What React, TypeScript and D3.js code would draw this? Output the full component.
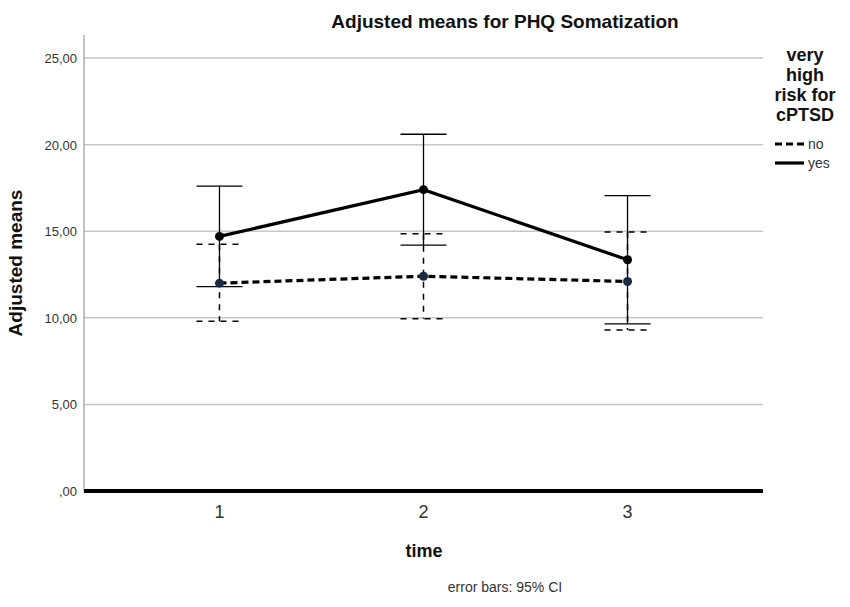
import React from 'react';
import * as d3 from 'd3';

// time points and adjusted means with 95% CI
const times = ['1', '2', '3'];
const noMeans = [12.0, 12.4, 12.1];
const noLower = [9.8, 9.95, 9.3];
const noUpper = [14.25, 14.85, 14.95];
const yesMeans = [14.7, 17.4, 13.35];
const yesLower = [11.8, 14.2, 9.65];
const yesUpper = [17.6, 20.6, 17.05];
const yTicks = [0, 5, 10, 15, 20, 25];
const legendTitle = ['very', 'high', 'risk for', 'cPTSD'];
const legendItems = ['no', 'yes'];

const W = 850;
const H = 607;
const left = 84;
const right = 763;
const top = 35;
const bottom = 491;
const font = '"Liberation Sans", Arial, sans-serif';

const fmt = (v: number) => (v === 0 ? ',00' : v.toFixed(2).replace('.', ','));

const App: React.FC = () => {
  const x = d3.scalePoint<string>().domain(times).range([left, right]).padding(0.664);
  const y = d3.scaleLinear().domain([0, 26.33]).range([bottom, top]);

  const line = d3
    .line<number>()
    .x((_, i) => x(times[i])!)
    .y((d) => y(d));

  const capW = 23;

  const series = [
    { key: 'no', means: noMeans, lo: noLower, hi: noUpper, dash: '7,4', bar: '6,6', point: '#1b2b45' },
    { key: 'yes', means: yesMeans, lo: yesLower, hi: yesUpper, dash: undefined, bar: undefined, point: '#000' },
  ];

  return (
    <svg width={W} height={H} style={{ position: 'absolute', left: 0, top: 0, background: '#fff' }} fontFamily={font}>
      <rect width={W} height={H} fill="#fff" />
      <text x={505} y={28} textAnchor="middle" fontSize={19} fontWeight="bold" fill="#111">
        Adjusted means for PHQ Somatization
      </text>

      {/* gridlines */}
      {yTicks.filter((t) => t > 0).map((t) => (
        <line key={t} x1={left} x2={right} y1={y(t)} y2={y(t)} stroke="#c8c8c8" strokeWidth={1.5} />
      ))}
      {/* y axis */}
      <line x1={left} x2={left} y1={top} y2={bottom} stroke="#9a9a9a" strokeWidth={1.2} />
      {yTicks.map((t) => (
        <text key={t} x={77} y={y(t) + 5} textAnchor="end" fontSize={13} fill="#333">
          {fmt(t)}
        </text>
      ))}
      <text
        transform={`translate(22, ${(top + bottom) / 2}) rotate(-90)`}
        textAnchor="middle"
        fontSize={19}
        fontWeight="bold"
        fill="#111"
      >
        Adjusted means
      </text>

      {/* error bars */}
      {series.map((s) =>
        times.map((t, i) => {
          const cx = x(t)!;
          return (
            <g key={s.key + t} stroke="#000" strokeWidth={s.bar ? 1.5 : 1.3} strokeDasharray={s.bar}>
              <line x1={cx} x2={cx} y1={y(s.hi[i])} y2={y(s.lo[i])} />
              <line x1={cx - capW} x2={cx + capW} y1={y(s.hi[i])} y2={y(s.hi[i])} />
              <line x1={cx - capW} x2={cx + capW} y1={y(s.lo[i])} y2={y(s.lo[i])} />
            </g>
          );
        })
      )}

      {/* mean lines */}
      {series.map((s) => (
        <path key={s.key} d={line(s.means)!} fill="none" stroke="#000" strokeWidth={3.2} strokeDasharray={s.dash} />
      ))}
      {series.map((s) =>
        s.means.map((m, i) => <circle key={s.key + i} cx={x(times[i])!} cy={y(m)} r={4.5} fill={s.point} />)
      )}

      {/* x axis */}
      <line x1={left} x2={right} y1={bottom} y2={bottom} stroke="#000" strokeWidth={4} />
      {times.map((t) => (
        <text key={t} x={x(t)!} y={518} textAnchor="middle" fontSize={18} fill="#333">
          {t}
        </text>
      ))}
      <text x={424} y={557} textAnchor="middle" fontSize={18} fontWeight="bold" fill="#111">
        time
      </text>
      <text x={505} y={592} textAnchor="middle" fontSize={14} fill="#333">
        error bars: 95% CI
      </text>

      {/* legend */}
      {legendTitle.map((l, i) => (
        <text key={l} x={805} y={61 + i * 20} textAnchor="middle" fontSize={18} fontWeight="bold" fill="#111">
          {l}
        </text>
      ))}
      {legendItems.map((l, i) => (
        <g key={l} transform={`translate(0, ${144 + i * 19})`}>
          <line x1={775} x2={804} y1={0} y2={0} stroke="#000" strokeWidth={3.2} strokeDasharray={l === 'no' ? '7,4' : undefined} />
          <text x={808} y={5} fontSize={14} fill="#333">
            {l}
          </text>
        </g>
      ))}
    </svg>
  );
};

export default App;
